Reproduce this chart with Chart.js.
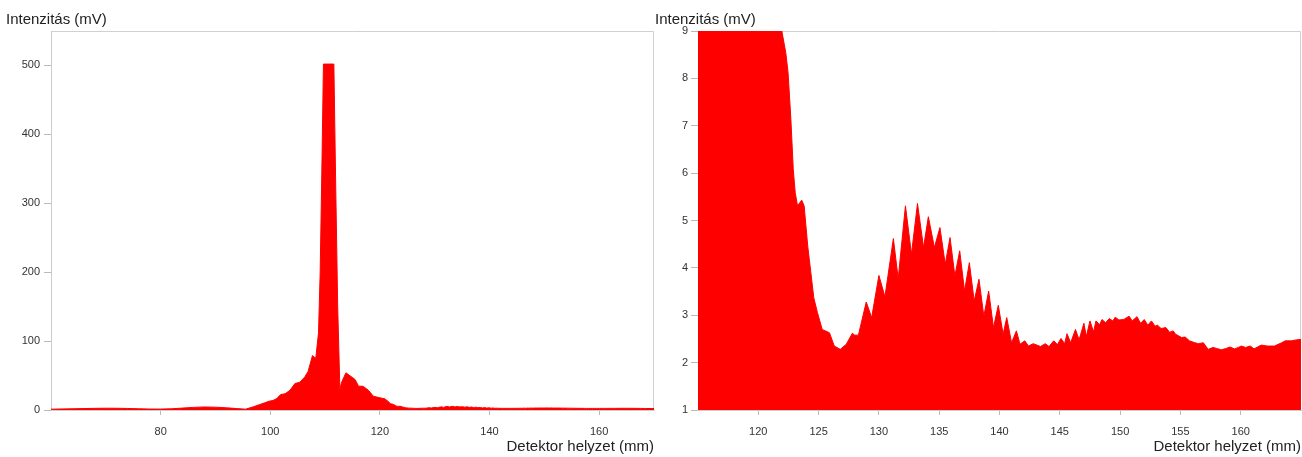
<!DOCTYPE html>
<html>
<head>
<meta charset="utf-8">
<script src="https://cdn.jsdelivr.net/npm/chart.js@4"></script>
<style>
  html, body { margin: 0; padding: 0; background: #fff; }
  #left { position: absolute; left: 0; top: 0; }
  #right { position: absolute; left: 655px; top: 0; }
</style>
</head>
<body>
<canvas id="left" width="655" height="457"></canvas>
<canvas id="right" width="647" height="457"></canvas>
<script>
const positions = [
  60, 62, 64, 66, 68, 70, 72, 74, 76, 78, 80, 82, 84, 86, 88, 90, 92, 94, 95.5, 96.9,
  98.1, 99, 99.8, 100.5, 101.2, 101.9, 102.7, 103.6, 104.5, 105.4, 106.3, 106.9, 107.7, 108.3, 108.8,
  109.1, 109.4, 109.7, 111.6, 111.9, 112.3, 112.7, 113.0, 113.8, 114.5, 115.5, 116.1, 116.9, 117.9,
  118.8, 120, 120.9, 121.5, 121.95, 122.28, 122.47, 122.7, 122.9, 123.06, 123.25, 123.6, 123.8,
  124.1, 124.6, 124.9, 125.3, 125.9, 126.3, 126.8, 127.3, 127.8, 128.0, 128.3, 128.95, 129.4,
  130.0, 130.5, 131.2, 131.6, 132.2, 132.7, 133.2, 133.7, 134.1, 134.6, 135.06, 135.5, 135.9,
  136.3, 136.7, 137.1, 137.5, 137.9, 138.3, 138.7, 139.1, 139.5, 139.9, 140.3, 140.6, 141.0,
  141.4, 141.7, 142.1, 142.4, 142.8, 143.4, 143.8, 144.1, 144.5, 144.8, 145.1, 145.4, 145.6,
  145.9, 146.3, 146.6, 147.0, 147.2, 147.5, 147.8, 148.0, 148.3, 148.5, 148.8, 149.1, 149.4,
  149.6, 149.9, 150.3, 150.75, 151.0, 151.4, 151.7, 152.0, 152.3, 152.6, 152.9, 153.1, 153.4,
  153.8, 154.1, 154.4, 154.6, 155.1, 155.4, 155.75, 156.2, 156.5, 156.9, 157.3, 157.7, 158.0,
  158.4, 158.8, 159.1, 159.5, 159.8, 160.05, 160.4, 160.8, 161.1, 161.4, 161.7, 162.2, 162.8,
  163.4, 163.7, 164.2, 164.6, 165.0, 165.5, 166.5, 167.5, 168.5, 170
];
const intensities = [
  1.2, 1.5, 1.8, 2.1, 2.4, 2.6, 2.5, 2.2, 1.8, 1.4, 1.3, 1.8, 2.8, 3.8, 4.4, 4.1, 3.2, 2.0, 1.2, 4.6,
  8, 10.4, 12.8, 13.8, 16.7, 22.5, 23.5, 28.7, 38.4, 40.3, 48, 56, 79, 75, 112,
  199, 344, 502, 502, 344, 150, 29.7, 40, 54, 50, 44, 34.5, 34.5, 28.7,
  20, 17.7, 16.2, 12.5, 9.0, 8.54, 8.12, 7.14, 6.08, 5.59, 5.31, 5.43, 5.31,
  4.46, 3.37, 3.06, 2.70, 2.63, 2.35, 2.28, 2.39, 2.62, 2.58, 2.58, 3.28, 2.95,
  3.84, 3.39, 4.62, 3.77, 5.31, 4.29, 5.36, 4.43, 5.08, 4.43, 4.85, 4.08, 4.64,
  3.83, 4.36, 3.51, 4.11, 3.30, 3.76, 2.98, 3.51, 2.74, 3.21, 2.60, 2.95, 2.42,
  2.67, 2.39, 2.46, 2.35, 2.40, 2.34, 2.40, 2.34, 2.46, 2.38, 2.51, 2.40, 2.61,
  2.42, 2.70, 2.48, 2.83, 2.55, 2.88, 2.65, 2.88, 2.80, 2.91, 2.84, 2.93, 2.88,
  2.96, 2.90, 2.91, 2.98, 2.88, 2.97, 2.83, 2.91, 2.79, 2.88, 2.77, 2.79, 2.72,
  2.74, 2.64, 2.67, 2.60, 2.53, 2.54, 2.46, 2.42, 2.40, 2.42, 2.28, 2.32, 2.30,
  2.27, 2.30, 2.33, 2.29, 2.32, 2.35, 2.32, 2.35, 2.29, 2.33, 2.37, 2.35, 2.35,
  2.42, 2.46, 2.46, 2.48, 2.49, 2.45, 2.4, 2.3, 2.2, 2.1
];

const leftXTicks = [80, 100, 120, 140, 160];
const leftYTicks = [0, 100, 200, 300, 400, 500];
const rightXTicks = [120, 125, 130, 135, 140, 145, 150, 155, 160];
const rightYTicks = [1, 2, 3, 4, 5, 6, 7, 8, 9];

const yTitle = 'Intenzitás (mV)';
const xTitle = 'Detektor helyzet (mm)';

Chart.defaults.font.family = '"Liberation Sans", Arial, sans-serif';

const points = positions.map((x, i) => ({ x: x, y: intensities[i] }));

// top/right frame lines and the y axis title written above the plot
const frame = {
  id: 'frame',
  beforeDatasetsDraw(chart) {
    const ctx = chart.ctx;
    const a = chart.chartArea;
    ctx.save();
    ctx.strokeStyle = '#d0d0d0';
    ctx.lineWidth = 1;
    ctx.beginPath();
    ctx.moveTo(a.left, a.top + 0.5);
    ctx.lineTo(a.right - 0.5, a.top + 0.5);
    ctx.lineTo(a.right - 0.5, a.bottom);
    ctx.stroke();
    ctx.restore();
  },
  afterDraw(chart, args, opts) {
    const ctx = chart.ctx;
    ctx.save();
    ctx.font = '15px "Liberation Sans", Arial, sans-serif';
    ctx.fillStyle = '#222';
    ctx.textAlign = 'left';
    ctx.textBaseline = 'alphabetic';
    ctx.fillText(opts.text, opts.x, 23.5);
    ctx.restore();
  }
};

function buildChart(id, cfg) {
  return new Chart(document.getElementById(id), {
    type: 'line',
    data: {
      datasets: [{
        data: points,
        borderColor: '#ff0000',
        backgroundColor: '#ff0000',
        borderWidth: 1,
        pointRadius: 0,
        tension: 0,
        fill: 'origin',
        clip: 0
      }]
    },
    options: {
      responsive: false,
      animation: false,
      events: [],
      layout: { padding: { top: 31, right: 1, left: 0, bottom: 0 } },
      plugins: {
        legend: { display: false },
        tooltip: { enabled: false },
        frame: { text: yTitle, x: cfg.titleX }
      },
      scales: {
        x: {
          type: 'linear',
          min: cfg.xMin,
          max: cfg.xMax,
          afterBuildTicks: s => { s.ticks = cfg.xTicks.map(v => ({ value: v })); },
          afterFit: s => { s.height = 47; },
          grid: { drawOnChartArea: false, tickLength: 5, color: '#bbb' },
          border: { color: '#ccc' },
          ticks: { font: { size: 11 }, color: '#333', padding: 10, maxRotation: 0, autoSkip: false },
          title: { display: true, text: xTitle, align: 'end', font: { size: 15 }, color: '#222', padding: 1 }
        },
        y: {
          type: 'linear',
          min: cfg.yMin,
          max: cfg.yMax,
          afterBuildTicks: s => { s.ticks = cfg.yTicks.map(v => ({ value: v })); },
          afterFit: s => { s.width = cfg.yWidth; },
          grid: { drawOnChartArea: false, tickLength: 7, color: '#bbb' },
          border: { color: '#ccc' },
          ticks: { font: { size: 11 }, color: '#333', padding: cfg.yPad, autoSkip: false }
        }
      }
    },
    plugins: [frame]
  });
}

buildChart('left', {
  xMin: 60, xMax: 170, yMin: 0, yMax: 550,
  xTicks: leftXTicks, yTicks: leftYTicks,
  yWidth: 51, yPad: 4, titleX: 6
});

buildChart('right', {
  xMin: 115, xMax: 165, yMin: 1, yMax: 9,
  xTicks: rightXTicks, yTicks: rightYTicks,
  yWidth: 43, yPad: 3, titleX: 0
});
</script>
</body>
</html>
